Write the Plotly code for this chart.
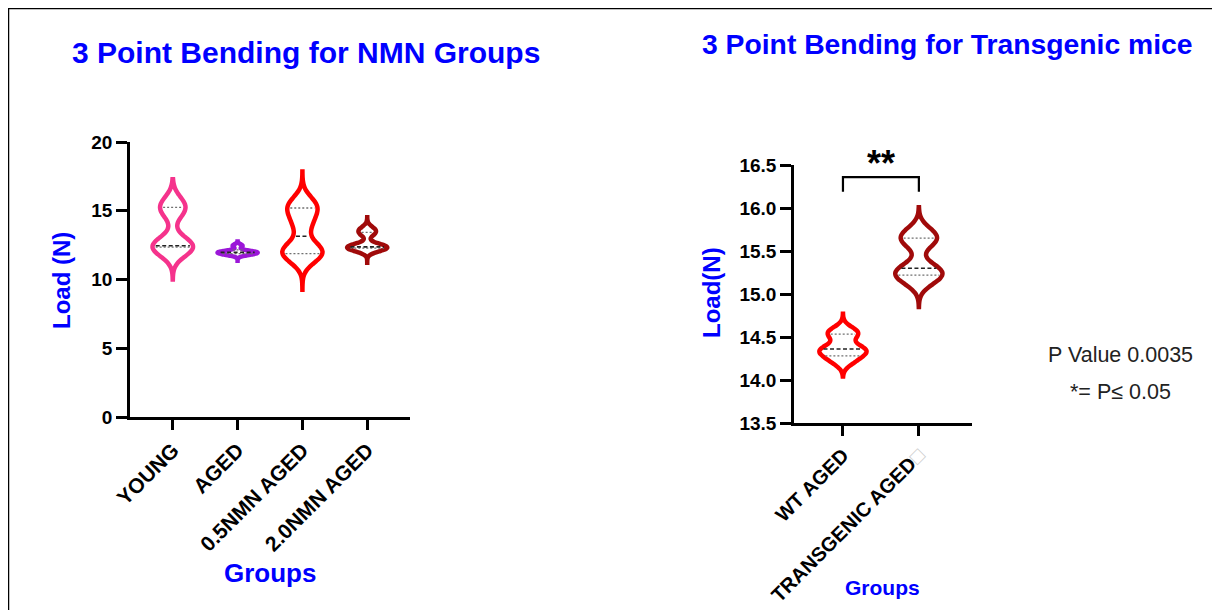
import numpy as np
import plotly.graph_objects as go

# ---------------- data ----------------
nmn_groups = ["YOUNG", "AGED", "0.5NMN AGED", "2.0NMN AGED"]
young = [12.3, 12.4, 12.45, 15.0, 15.5]
aged = [11.8, 11.9, 11.95, 12.0, 12.05, 12.45]
nmn_05 = [11.7, 11.95, 12.3, 14.0, 15.1, 15.5]
nmn_20 = [12.25, 12.3, 12.35, 12.4, 13.35, 13.65]
nmn_ticks = [0, 5, 10, 15, 20]

tg_groups = ["WT AGED", "TRANSGENIC AGED"]
wt_aged = [14.22, 14.3, 14.35, 14.37, 14.52, 14.57]
tg_aged = [15.15, 15.22, 15.26, 15.3, 15.6, 15.65, 15.72]
tg_ticks = [13.5, 14.0, 14.5, 15.0, 15.5, 16.0, 16.5]
p_value = 0.0035
alpha = 0.05

# ---------------- styles ----------------
OFF = 8                      # page body margin of the HTML page
W, H = 1220 - OFF, 610 - OFF
FONT = "Arial, Liberation Sans, sans-serif"
BLUE = "#0000FF"
VIOLIN_W = 0.62

nmn_style = [
    dict(color="#F5338C", bw=0.7, span=[10.0, 17.3]),
    dict(color="#9B17D8", bw=0.12, span=[11.37, 12.93]),
    dict(color="#FF0000", bw=0.7, span=[9.25, 17.85]),
    dict(color="#A00A0A", bw=0.27, span=[11.06, 14.53]),
]
tg_style = [
    dict(color="#FF0000", bw=0.065, span=[14.04, 14.77]),
    dict(color="#A00A0A", bw=0.1, span=[14.85, 16.01]),
]


def fx(x):
    return (x - OFF) / W


def fy(y):
    return 1 - (y - OFF) / H


def kde(vals, bw, t):
    v = np.asarray(vals, dtype=float)[:, None]
    t = np.atleast_1d(np.asarray(t, dtype=float))[None, :]
    return np.exp(-0.5 * ((t - v) / bw) ** 2).sum(0) / (v.shape[0] * bw * np.sqrt(2 * np.pi))


fig = go.Figure()


def add_group(vals, pos, st, xa, ya, inset):
    fig.add_trace(go.Violin(
        x=[pos] * len(vals), y=vals, xaxis=xa, yaxis=ya,
        width=VIOLIN_W, scalemode="width", side="both",
        bandwidth=st["bw"], spanmode="manual", span=st["span"],
        fillcolor="white", line=dict(color=st["color"], width=4.5),
        points=False, box_visible=False, meanline_visible=False,
        hoverinfo="skip", showlegend=False,
    ))
    grid = np.arange(st["span"][0], st["span"][1] + st["bw"] / 6, st["bw"] / 3)
    kmax = kde(vals, st["bw"], grid).max()
    q1, med, q3 = np.percentile(vals, [25, 50, 75], method="weibull")
    for q, dash, col, wdt in [(q1, "2px,2px", "#707070", 1.3), (q3, "2px,2px", "#707070", 1.3),
                              (med, "4px,2.5px", "#222222", 1.6)]:
        hw = VIOLIN_W / 2 * kde(vals, st["bw"], q)[0] / kmax - inset
        if hw <= 0:
            continue
        fig.add_trace(go.Scatter(
            x=[pos - hw, pos + hw], y=[q, q], xaxis=xa, yaxis=ya, mode="lines",
            line=dict(color=col, width=wdt, dash=dash),
            hoverinfo="skip", showlegend=False,
        ))


for i, (vals, st) in enumerate(zip([young, aged, nmn_05, nmn_20], nmn_style)):
    add_group(vals, i, st, "x", "y", 3 / 65)
for i, (vals, st) in enumerate(zip([wt_aged, tg_aged], tg_style)):
    add_group(vals, i, st, "x2", "y2", 3 / 76)

axis_common = dict(
    showline=True, linecolor="black", linewidth=2.5,
    ticks="outside", tickcolor="black", tickwidth=2.5,
    showgrid=False, zeroline=False, fixedrange=True, automargin=False,
)

tg_ticktext = tg_groups[:-1] + [tg_groups[-1] + '<span style="color:#cccccc">□</span>']

fig.update_layout(
    width=W, height=H,
    margin=dict(l=0, r=0, t=0, b=0, autoexpand=False),
    paper_bgcolor="white", plot_bgcolor="white",
    violinmode="overlay", showlegend=False,
    font=dict(family=FONT, color="black"),
    xaxis=dict(**axis_common, domain=[fx(130), fx(410)], range=[-0.66, 3.66], anchor="y",
               tickmode="array", tickvals=list(range(len(nmn_groups))), ticktext=nmn_groups,
               tickangle=-45, ticklen=10,
               tickfont=dict(family=FONT, size=21, color="black", weight="bold")),
    yaxis=dict(**axis_common, domain=[fy(417), fy(142)], range=[0, 20], anchor="x",
               tickmode="array", tickvals=nmn_ticks, ticklen=11,
               tickfont=dict(family=FONT, size=19, color="black", weight="bold")),
    xaxis2=dict(**axis_common, domain=[fx(794), fx(972)], range=[-0.645, 1.7], anchor="y2",
                tickmode="array", tickvals=list(range(len(tg_groups))), ticktext=tg_ticktext,
                tickangle=-45, ticklen=10,
                tickfont=dict(family=FONT, size=20, color="black", weight="bold")),
    yaxis2=dict(**axis_common, domain=[fy(423), fy(165)], range=[13.5, 16.5], anchor="x2",
                tickmode="array", tickvals=tg_ticks, tickformat=".1f", ticklen=11,
                tickfont=dict(family=FONT, size=19, color="black", weight="bold")),
)

# significance bracket
br_lo, br_hi = 16.19, 16.36
fig.add_shape(type="path", xref="x2", yref="y2",
              path=f"M 0 {br_lo} L 0 {br_hi} L 1 {br_hi} L 1 {br_lo}",
              line=dict(color="black", width=2.2))
fig.add_annotation(xref="x2", yref="y2", x=0.5, y=br_hi, yanchor="bottom", yshift=-9,
                   text="**", showarrow=False,
                   font=dict(family=FONT, size=36, color="black", weight="bold"))


def text(x, y, s, size, color=BLUE, bold=True, angle=0):
    fig.add_annotation(xref="paper", yref="paper", x=fx(x), y=fy(y),
                       xanchor="center", yanchor="middle",
                       text=s, showarrow=False, textangle=angle,
                       font=dict(family=FONT, size=size, color=color,
                                 weight="bold" if bold else "normal"))


text(306, 52, "3 Point Bending for NMN Groups", 30)
text(947, 44, "3 Point Bending for Transgenic mice", 28.3)
text(62, 281, "Load (N)", 24, angle=-90)
text(711, 293, "Load(N)", 24, angle=-90)
text(270, 573, "Groups", 26)
text(882, 587, "Groups", 21)
text(1120, 355, f"P Value {p_value}", 21.5, color="#222222", bold=False)
text(1120, 392, f"*= P≤ {alpha}", 21.5, color="#222222", bold=False)

# frame lines
fig.add_shape(type="line", xref="paper", yref="paper", x0=fx(8), x1=1, y0=fy(8), y1=fy(8),
              line=dict(color="black", width=2.5))
fig.add_shape(type="line", xref="paper", yref="paper", x0=fx(8), x1=fx(8), y0=0, y1=fy(8),
              line=dict(color="black", width=2.5))

fig.write_html("out.html")
